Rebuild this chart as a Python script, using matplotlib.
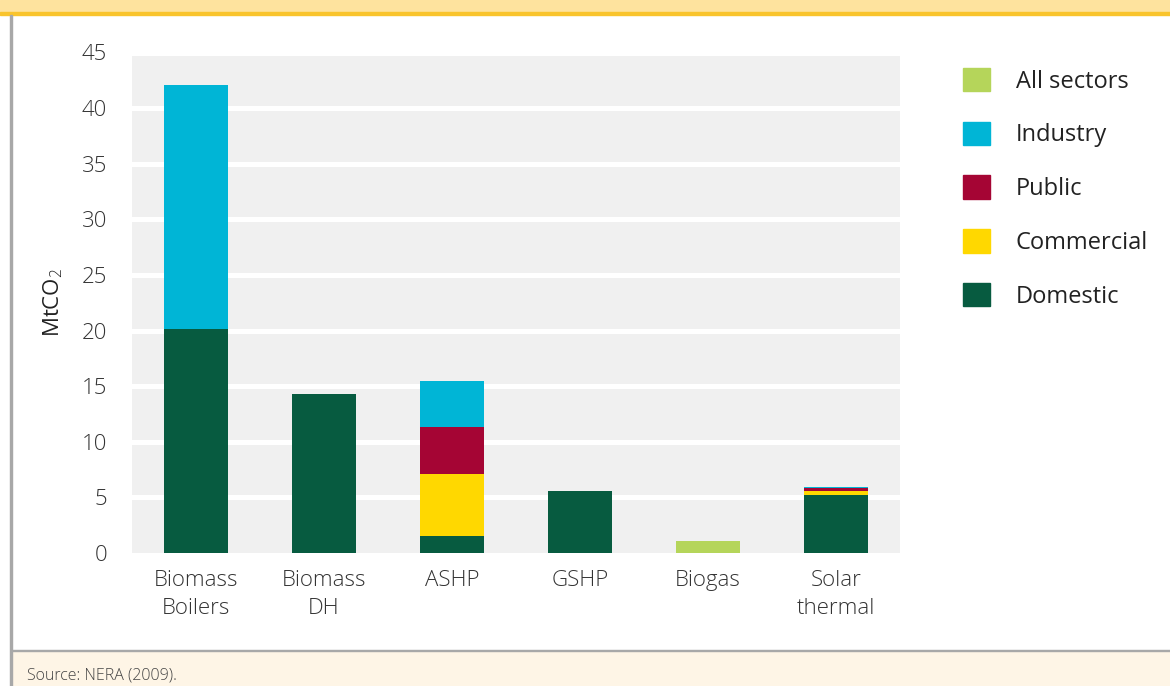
import matplotlib.pyplot as plt
from matplotlib.patches import Patch, Rectangle

plt.rcParams['font.family'] = ['Open Sans', 'DejaVu Sans']
plt.rcParams['font.weight'] = 'light'
plt.rcParams['mathtext.fontset'] = 'custom'
plt.rcParams['mathtext.rm'] = 'Open Sans'
plt.rcParams['mathtext.it'] = 'Open Sans'

categories = ['Biomass\nBoilers', 'Biomass\nDH', 'ASHP', 'GSHP', 'Biogas', 'Solar\nthermal']
domestic = [20.1, 14.3, 1.5, 5.6, 0, 5.2]
commercial = [0, 0, 5.6, 0, 0, 0.35]
public = [0, 0, 4.2, 0, 0, 0.3]
industry = [22.0, 0, 4.2, 0, 0, 0.1]
all_sectors = [0, 0, 0, 0, 1.1, 0]

series = [('Domestic', domestic, '#075b40'),
          ('Commercial', commercial, '#ffd800'),
          ('Public', public, '#a50534'),
          ('Industry', industry, '#00b5d6'),
          ('All sectors', all_sectors, '#b5d55a')]

fig = plt.figure(figsize=(11.7, 6.86), dpi=100)
W, H = 1170, 686

# frame decorations
fig.patches.append(Rectangle((0, 1 - 13 / H), 1, 13 / H, transform=fig.transFigure,
                             color='#fee39e', zorder=0))
fig.patches.append(Rectangle((0, 1 - 15 / H), 1, 3 / H, transform=fig.transFigure,
                             color='#f9c42c', zorder=0))
fig.patches.append(Rectangle((11 / W, 0), 1, 35 / H, transform=fig.transFigure,
                             color='#fef5e6', zorder=0))
fig.patches.append(Rectangle((11 / W, 35 / H), 1, 1.5 / H, transform=fig.transFigure,
                             color='#a8a8a8', zorder=0))
fig.patches.append(Rectangle((10 / W, 0), 2 / W, 1 - 15 / H, transform=fig.transFigure,
                             color='#a8a8a8', zorder=0))
fig.text(27 / W, 10 / H, 'Source: NERA (2009).', fontsize=11.5, color='#444444',
         ha='left', va='center')

ax = fig.add_axes([132 / W, 1 - 553 / H, (900 - 132) / W, (553 - 52.5) / H])
ax.set_facecolor('#f0f0f0')
x = list(range(len(categories)))
bottom = [0] * len(categories)
for name, vals, col in series:
    ax.bar(x, vals, 0.5, bottom=bottom, color=col, zorder=3)
    bottom = [b + v for b, v in zip(bottom, vals)]

ax.set_xlim(-0.5, 5.5)
ax.set_ylim(0, 45)
ax.set_yticks(range(0, 50, 5))
for yv in range(5, 50, 5):
    ax.axhline(yv, color='white', lw=3.6, zorder=1)
for s in ax.spines.values():
    s.set_visible(False)
ax.set_xticks(x)
ax.set_xticklabels(categories, linespacing=1.45)
ax.tick_params(length=0, labelsize=16, colors='#333333')
ax.tick_params(axis='y', pad=18)
ax.tick_params(axis='x', pad=12)
ax.set_ylabel(r'MtCO$_2$', fontsize=16, color='#222222', labelpad=12)

order = ['All sectors', 'Industry', 'Public', 'Commercial', 'Domestic']
cmap = {n: c for n, v, c in series}
handles = [Patch(color=cmap[n], label=n) for n in order]
fig.legend(handles=handles, loc='upper left', bbox_to_anchor=(963 / W, 1 - 68 / H),
           frameon=False, prop={'size': 17, 'weight': 'normal'},
           handlelength=1.14, handleheight=1.14,
           handletextpad=1.1, labelspacing=1.19, borderpad=0, borderaxespad=0,
           labelcolor='#222222')

fig.savefig('out.png', dpi=100)
